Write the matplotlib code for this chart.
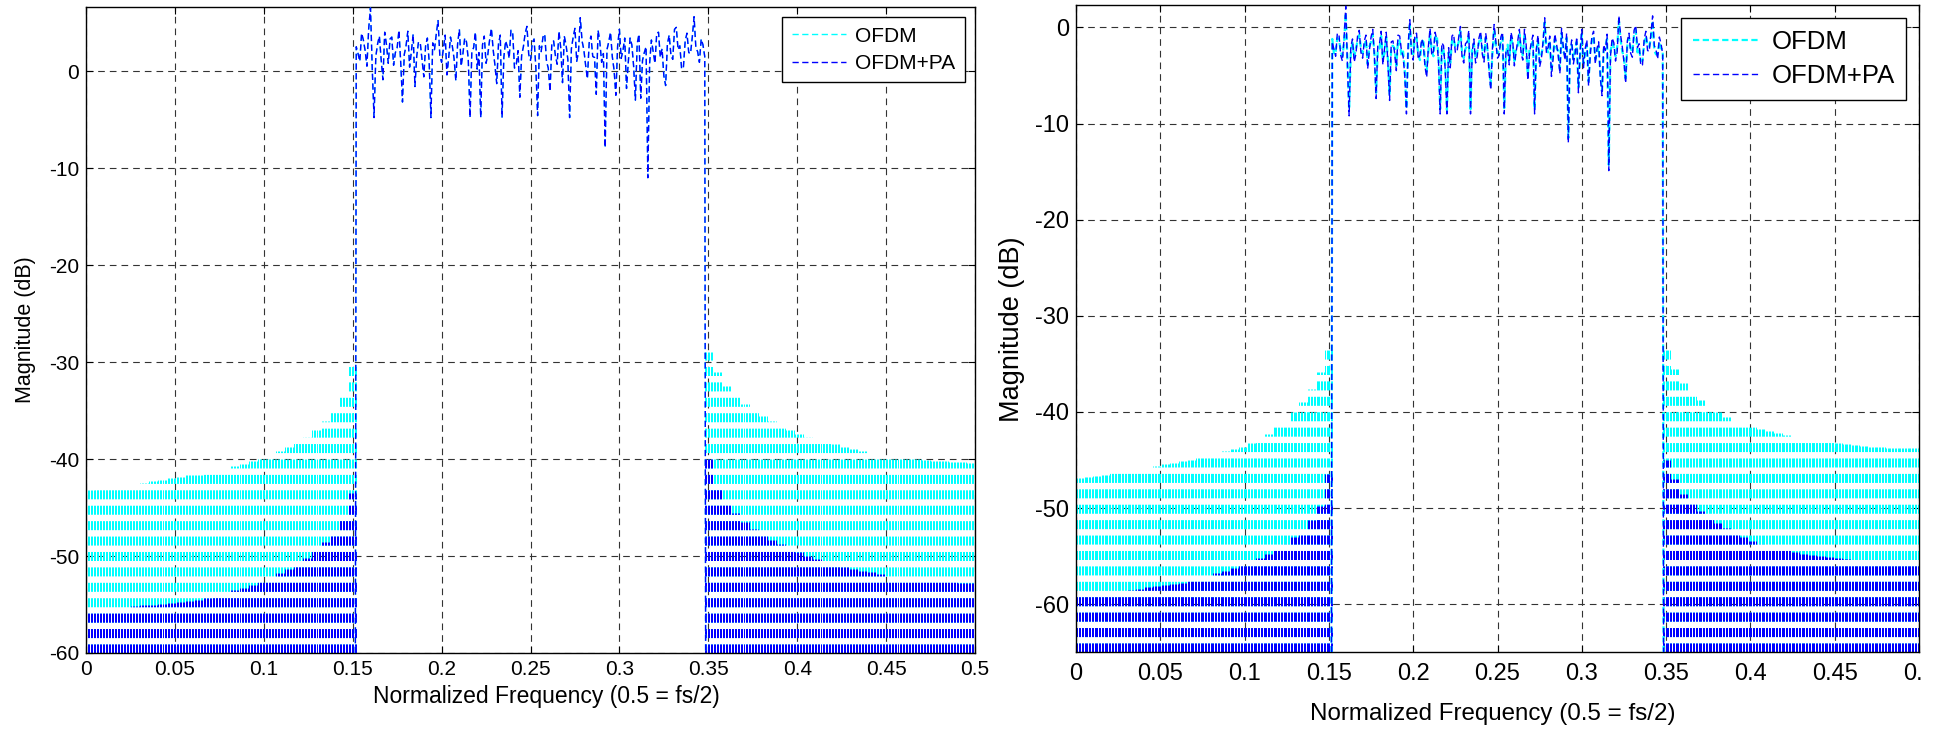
import numpy as np
import matplotlib
matplotlib.use("Agg")
import matplotlib.pyplot as plt
from matplotlib.transforms import Bbox

plt.rcParams['font.family'] = ['Liberation Sans', 'DejaVu Sans']
plt.rcParams['lines.scale_dashes'] = False
plt.rcParams['axes.unicode_minus'] = False

# Normalised frequency layout of the spectrum
INBAND_START, INBAND_STOP = 0.152, 0.348
EDGE_LO, EDGE_HI = 0.1515, 0.3485          # where the in-band trace drops to the floor
LOWER_BAND = (0.0, 0.152)
UPPER_BAND = (0.348, 0.5)

XTICKS = [0, 0.05, 0.1, 0.15, 0.2, 0.25, 0.3, 0.35, 0.4, 0.45, 0.5]
XTICK_LABELS = ['0', '0.05', '0.1', '0.15', '0.2', '0.25', '0.3', '0.35', '0.4', '0.45', '0.5']
YTICKS = [-60, -50, -40, -30, -20, -10, 0]

# ---- left panel (dB) ----
LEFT_YLIM = (-60, 6.6)
LEFT_FLOOR = -60.0
LEFT_INBAND = [2.5, 1.8, 1.0, 3.9, 3.2, 2.1, 0.5, 4.4, 6.5, 0.2,
               -4.8, 1.5, 2.8, 3.6, 1.2, -0.9, 4.0, 2.7, 0.8, 3.3,
               3.5, 0.6, 1.9, 2.4, 4.2, 0.9, -3.2, 1.7, 2.6, 4.1,
               0.4, 2.0, 3.8, -1.6, 1.5, 3.0, 2.9, 1.1, -0.6, 2.6,
               3.4, 1.0, -4.8, 2.9, 2.2, 3.8, 5.2, 1.6, 0.9, 2.3,
               3.7, -0.4, 1.4, 3.5, 2.6, 1.3, -1.0, 2.8, 4.3, 0.5,
               1.8, 3.4, 3.0, 1.2, -4.8, 2.0, 2.4, 4.0, 0.2, 1.9,
               -4.8, 2.7, 3.6, 0.8, 1.7, 3.2, 4.4, 2.2, 0.6, -1.3,
               2.8, 3.7, -4.8, 1.4, 3.1, 2.5, 1.3, 4.2, 3.9, 0.3,
               0.7, 2.1, -2.7, 1.6, 2.5, 3.9, 4.6, 1.7, 1.1, 2.9,
               3.3, 0.4, -4.6, 2.6, 2.0, 3.5, 3.8, 1.0, 0.3, -2.1,
               2.9, 3.1, 1.6, 0.7, 4.1, 2.4, -1.2, 3.6, 2.7, 1.2,
               -4.8, 2.3, 3.5, 4.4, 1.0, 2.0, 5.5, 3.1, 2.2, 0.6,
               -0.8, 2.9, 3.6, 1.5, 1.4, -2.4, 4.2, 3.0, 0.9, 1.8,
               -7.9, 2.2, 3.0, 4.0, 1.5, 0.1, -2.5, 2.6, 4.3, 1.3,
               2.1, 3.4, -1.8, 0.9, 3.4, 2.7, 0.5, -3.0, 2.8, 3.8,
               -2.8, 1.1, 1.9, 2.5, -11.0, 0.8, 3.2, 2.0, 0.8, 3.9,
               4.0, 1.4, 2.3, -0.5, -1.5, 2.8, 3.7, 1.6, 1.2, 4.3,
               4.5, 2.2, 2.6, 0.2, 0.4, 3.1, 3.9, 1.9, 1.8, 3.5,
               5.6, 2.4, 2.0, 0.9, 3.3, 2.7, 1.5]
LEFT_OFDM_LOWER = [-43.2, -43.1, -43.0, -42.9, -42.7, -42.6, -42.5, -42.3, -42.2, -42.0,
                   -41.9, -41.7, -41.6, -41.4, -41.2, -41.0, -40.7, -40.5, -40.2, -39.9,
                   -39.6, -39.2, -38.8, -38.3, -37.7, -37.0, -36.1, -35.0, -33.5, -30.0]
LEFT_OFDM_UPPER = [-29.0, -31.0, -32.5, -33.5, -34.3, -35.0, -35.6, -36.1, -36.6, -37.0,
                   -37.4, -37.7, -38.0, -38.3, -38.5, -38.8, -39.0, -39.2, -39.4, -39.6,
                   -39.7, -39.8, -39.9, -40.0, -40.1, -40.2, -40.2, -40.3, -40.3, -40.4]
LEFT_PA_LOWER = [-55.7, -55.6, -55.5, -55.4, -55.3, -55.2, -55.1, -55.0, -54.9, -54.8,
                 -54.7, -54.6, -54.5, -54.3, -54.0, -53.8, -53.5, -53.3, -53.0, -52.7,
                 -52.2, -51.8, -51.3, -50.8, -50.2, -49.5, -48.6, -47.5, -46.0, -43.5]
LEFT_PA_UPPER = [-40.0, -43.0, -44.5, -45.6, -46.5, -47.2, -47.8, -48.3, -48.8, -49.2,
                 -49.6, -50.0, -50.3, -50.6, -50.9, -51.1, -51.3, -51.5, -51.7, -51.9,
                 -52.1, -52.2, -52.3, -52.4, -52.5, -52.6, -52.7, -52.7, -52.8, -52.8]

# ---- right panel (dB) ----
RIGHT_YLIM = (-65, 2.3)
RIGHT_FLOOR = -65.0
RIGHT_OFDM_INBAND = [-1.2, -2.8, -2.5, -1.1, -1.3, -2.4, -3.0, -1.6, 1.5, -3.5,
                     -8.5, -2.5, -1.6, -3.1, -2.2, -1.4, -0.8, -2.1, -2.7, -1.9,
                     -1.3, -3.8, -2.0, -1.5, -0.7, -2.6, -6.8, -2.3, -2.2, -0.9,
                     -3.3, -2.7, -1.0, -3.3, -7.0, -2.0, -1.9, -2.2, -4.0, -1.3,
                     -1.4, -2.9, -2.5, -4.5, -8.4, -2.4, 0.2, -2.3, -2.8, -1.2,
                     -1.1, -2.8, -3.4, -1.7, -1.2, -3.6, -4.6, -2.5, -0.6, -2.4,
                     -3.0, -1.0, -0.8, -3.0, -8.5, -2.1, -2.4, -3.9, -8.6, -2.6,
                     -3.7, -1.4, -1.2, -2.1, -2.1, -1.5, -0.4, -2.7, -3.2, -2.2,
                     -2.0, -0.8, -8.5, -2.0, -1.7, -3.2, -2.5, -1.6, -0.9, -2.3,
                     -3.1, -1.1, -2.3, -4.1, -6.0, -2.7, -0.2, -1.9, -2.7, -2.4,
                     -1.5, -1.0, -8.4, -2.9, -1.8, -3.4, -1.0, -1.8, -3.5, -2.1,
                     -1.9, -0.7, -2.2, -2.9, -0.7, -2.3, -5.0, -2.2, -2.1, -1.3,
                     -8.5, -2.8, -1.3, -3.6, -2.8, -2.0, 0.5, -2.1, -2.6, -1.4,
                     -4.6, -2.7, -1.2, -2.2, -2.4, -4.3, -0.6, -2.5, -2.9, -1.1,
                     -11.5, -2.2, -1.8, -3.3, -2.3, -1.5, -6.2, -2.9, -0.7, -3.7,
                     -2.7, -1.8, -5.6, -2.4, -1.4, -0.9, -3.3, -2.7, -2.0, -4.8,
                     -6.6, -2.3, -1.9, -1.2, -14.3, -2.5, -1.6, -2.1, -3.0, -2.0,
                     0.7, -1.3, -2.5, -3.1, -5.3, -1.9, -1.1, -2.2, -2.6, -0.8,
                     -0.3, -2.6, -2.2, -3.5, -3.4, -1.7, -0.9, -1.9, -2.0, -1.1,
                     0.7, -2.4, -2.8, -2.8, -1.5, -2.2, -2.3]
RIGHT_PA_INBAND = [-1.5, -2.3, -3.0, -0.6, -0.8, -2.9, -3.5, -1.1, 2.2, -4.0,
                   -9.2, -2.0, -1.2, -3.6, -2.8, -0.9, -0.3, -2.6, -3.2, -1.4,
                   -0.8, -4.3, -2.4, -1.0, -0.2, -3.1, -7.4, -1.8, -1.7, -0.4,
                   -3.9, -2.2, -0.5, -3.8, -7.6, -1.5, -1.4, -2.7, -4.5, -0.8,
                   -0.9, -2.4, -3.0, -5.0, -9.0, -1.9, 0.8, -2.8, -3.4, -0.7,
                   -0.6, -3.3, -2.9, -1.2, -1.7, -4.1, -5.2, -2.0, -0.1, -2.9,
                   -2.5, -0.5, -1.3, -3.5, -9.0, -1.6, -1.9, -4.4, -9.0, -2.1,
                   -4.2, -0.9, -0.7, -2.6, -2.6, -1.0, 0.1, -3.2, -3.7, -1.7,
                   -1.5, -0.3, -9.0, -2.5, -1.2, -3.7, -3.0, -1.1, -0.4, -2.8,
                   -3.6, -0.6, -1.8, -4.6, -6.5, -2.2, 0.3, -1.4, -3.2, -2.9,
                   -1.0, -0.5, -9.0, -2.4, -2.3, -3.9, -0.5, -1.3, -4.0, -2.6,
                   -1.4, -0.2, -2.7, -3.4, -0.2, -1.8, -5.5, -2.7, -1.6, -0.8,
                   -9.0, -2.3, -0.8, -4.1, -3.3, -1.5, 1.0, -2.6, -2.1, -0.9,
                   -5.1, -3.2, -0.7, -1.7, -2.9, -4.8, -0.1, -2.0, -3.4, -0.6,
                   -12.0, -2.7, -1.3, -3.8, -2.8, -1.0, -6.8, -2.4, -0.2, -4.2,
                   -2.2, -1.3, -6.1, -2.9, -0.9, -0.4, -3.8, -2.2, -1.5, -5.3,
                   -7.1, -1.8, -2.4, -0.7, -14.9, -3.0, -1.1, -1.6, -3.5, -2.5,
                   1.2, -0.8, -2.0, -3.6, -5.8, -1.4, -0.6, -2.7, -3.1, -0.3,
                   0.2, -2.1, -1.7, -4.0, -3.9, -1.2, -0.4, -2.4, -2.5, -0.6,
                   1.2, -1.9, -2.3, -3.3, -1.0, -1.7, -2.8]
RIGHT_OFDM_LOWER = [-46.9, -46.8, -46.7, -46.6, -46.4, -46.2, -46.0, -45.9, -45.7, -45.6,
                    -45.4, -45.3, -45.1, -45.0, -44.8, -44.6, -44.3, -44.1, -43.9, -43.6,
                    -43.2, -42.8, -42.3, -41.6, -40.9, -40.0, -39.0, -37.6, -35.8, -33.0]
RIGHT_OFDM_UPPER = [-33.0, -35.5, -37.0, -38.0, -38.8, -39.5, -40.0, -40.5, -40.9, -41.2,
                    -41.5, -41.8, -42.0, -42.2, -42.4, -42.6, -42.8, -42.9, -43.0, -43.1,
                    -43.2, -43.3, -43.4, -43.5, -43.6, -43.6, -43.7, -43.7, -43.8, -43.8]
RIGHT_PA_LOWER = [-59.0, -58.9, -58.9, -58.8, -58.7, -58.6, -58.5, -58.4, -58.2, -58.1,
                  -58.0, -57.9, -57.8, -57.6, -57.3, -57.0, -56.7, -56.5, -56.2, -55.9,
                  -55.6, -55.2, -54.8, -54.3, -53.7, -53.0, -52.2, -51.2, -49.8, -46.5]
RIGHT_PA_UPPER = [-45.0, -47.0, -48.5, -49.5, -50.3, -51.0, -51.6, -52.1, -52.6, -53.0,
                  -53.4, -53.7, -54.0, -54.2, -54.4, -54.6, -54.8, -54.9, -55.0, -55.1,
                  -55.2, -55.3, -55.4, -55.5, -55.5, -55.6, -55.6, -55.7, -55.7, -55.8]

OFDM_COLOR = (0.0, 1.0, 1.0)
PA_COLOR = (0.0, 0.0, 1.0)
SIDELOBE_DASH = (0, (6.5, 4.6))
TRACE_DASH = (0, (4.5, 2.5))
GRID_DASH = (0, (4.8, 3.6))
LINES_PER_VALUE = 6


def draw_sidelobes(ax, band, levels, floor, color):
    """
    Out-of-band comb: one dashed stroke per bin, from the floor to the sidelobe level
    """
    freqs = np.linspace(band[0], band[1], len(levels) * LINES_PER_VALUE)
    tops = np.repeat(levels, LINES_PER_VALUE)
    ax.vlines(freqs, floor, tops, colors=[color], linestyles=[SIDELOBE_DASH],
              linewidth=0.72, zorder=2)


def draw_trace(ax, inband, lower, upper, floor, color, label, lw=1.0):
    """
    Draw one PSD trace: both sidelobe regions plus the in-band part
    """
    draw_sidelobes(ax, LOWER_BAND, lower, floor, color)
    draw_sidelobes(ax, UPPER_BAND, upper, floor, color)

    freqs = np.concatenate([[EDGE_LO], np.linspace(INBAND_START, INBAND_STOP, len(inband)), [EDGE_HI]])
    mags = np.concatenate([[floor], inband, [floor]])
    ax.plot(freqs, mags, color=color, linestyle=TRACE_DASH, linewidth=lw, label=label, zorder=3)


def style_axes(ax, ylim, tick_size, tick_pad, xlabel_size, xlabel_pad, xlabel_x,
               ylabel_size, ylabel_pad, legend_size):
    ax.set_xlim(0, 0.5)
    ax.set_ylim(*ylim)
    ax.set_xticks(XTICKS)
    ax.set_xticklabels(XTICK_LABELS)
    ax.set_yticks(YTICKS)
    ax.set_axisbelow(True)
    ax.grid(True, linestyle=GRID_DASH, color='0.2', linewidth=0.8)
    ax.tick_params(direction='in', top=True, right=True, length=5, width=0.8,
                   labelsize=tick_size, pad=5)
    ax.tick_params(axis='x', pad=tick_pad)
    for sp in ax.spines.values():
        sp.set_linewidth(1.0)
    ax.set_xlabel('Normalized Frequency (0.5 = fs/2)', fontsize=xlabel_size, labelpad=xlabel_pad)
    ax.xaxis.label.set_x(xlabel_x)
    ax.set_ylabel('Magnitude (dB)', fontsize=ylabel_size, labelpad=ylabel_pad)
    leg = ax.legend(loc='upper right', fontsize=legend_size, fancybox=False,
                    frameon=True, edgecolor='black', framealpha=1.0,
                    borderaxespad=0.5, handlelength=2.6, handletextpad=0.45,
                    labelspacing=0.4, borderpad=0.45)
    leg.get_frame().set_linewidth(1.0)


fig = plt.figure(figsize=(19.34, 7.29), dpi=100)
W, H = 1934.0, 729.0

ax1 = fig.add_axes([86 / W, 1 - 653 / H, 889 / W, 646 / H])
draw_trace(ax1, LEFT_INBAND, LEFT_OFDM_LOWER, LEFT_OFDM_UPPER, LEFT_FLOOR, OFDM_COLOR, 'OFDM')
draw_trace(ax1, LEFT_INBAND, LEFT_PA_LOWER, LEFT_PA_UPPER, LEFT_FLOOR, PA_COLOR, 'OFDM+PA')
style_axes(ax1, LEFT_YLIM, 15, 5, 16.5, 4, 0.518, 15.5, 9, 15)

ax2 = fig.add_axes([1076 / W, 1 - 652.3 / H, 843 / W, 647 / H])
draw_trace(ax2, RIGHT_OFDM_INBAND, RIGHT_OFDM_LOWER, RIGHT_OFDM_UPPER, RIGHT_FLOOR, OFDM_COLOR, 'OFDM', lw=1.6)
draw_trace(ax2, RIGHT_PA_INBAND, RIGHT_PA_LOWER, RIGHT_PA_UPPER, RIGHT_FLOOR, PA_COLOR, 'OFDM+PA')
style_axes(ax2, RIGHT_YLIM, 17, 8, 17.4, 13, 0.494, 19.5, 7, 18.5)

# the last x label of the right panel runs off the page edge
last = ax2.xaxis.get_major_ticks()[-1].label1
last.set_clip_box(Bbox([[0, 0], [1921, H]]))
last.set_clip_on(True)

fig.savefig('out.png', dpi=100)
